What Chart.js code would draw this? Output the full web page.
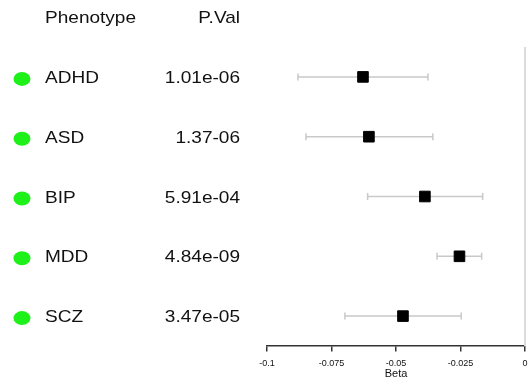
<!DOCTYPE html>
<html>
<head>
<meta charset="utf-8">
<script src="https://cdn.jsdelivr.net/npm/chart.js@4/dist/chart.umd.min.js"></script>
<style>
  html, body { margin: 0; padding: 0; background: #fff; }
  #wrap { width: 529px; height: 383px; }
</style>
</head>
<body>
<div id="wrap"><canvas id="forest"></canvas></div>
<script>
// forest plot data
var phenotypes = ['ADHD', 'ASD', 'BIP', 'MDD', 'SCZ'];
var pValues = ['1.01e-06', '1.37-06', '5.91e-04', '4.84e-09', '3.47e-05'];
var beta = [-0.0628, -0.0605, -0.0388, -0.0254, -0.0473];
var lower = [-0.0880, -0.0849, -0.0610, -0.0341, -0.0698];
var upper = [-0.0376, -0.0357, -0.0164, -0.0168, -0.0247];
var xTicks = [-0.1, -0.075, -0.05, -0.025, 0];

var FONT = '"Liberation Sans", Arial, sans-serif';

var points = beta.map(function (b, i) { return { x: b, y: i }; });

// text in the table is a little wide, so stretch it horizontally
function wideText(ctx, text, x, y, align) {
    var sx = 1.12;
    ctx.save();
    ctx.translate(x, y);
    ctx.scale(sx, 1);
    ctx.textAlign = align;
    ctx.fillText(text, 0, 0);
    ctx.restore();
}

// whiskers + left table (dots, names, p-values)
var forestExtras = {
    id: 'forestExtras',
    beforeDatasetsDraw: function (chart) {
        var ctx = chart.ctx;
        var xs = chart.scales.x, ys = chart.scales.y;
        ctx.save();
        ctx.strokeStyle = '#c9c9c9';
        ctx.lineWidth = 1.5;
        for (var i = 0; i < beta.length; i++) {
            var y = ys.getPixelForValue(i);
            var x0 = xs.getPixelForValue(lower[i]);
            var x1 = xs.getPixelForValue(upper[i]);
            ctx.beginPath();
            ctx.moveTo(x0, y); ctx.lineTo(x1, y);
            ctx.moveTo(x0, y - 3.5); ctx.lineTo(x0, y + 3.5);
            ctx.moveTo(x1, y - 3.5); ctx.lineTo(x1, y + 3.5);
            ctx.stroke();
        }
        ctx.restore();
    },
    afterDraw: function (chart) {
        var ctx = chart.ctx;
        var ys = chart.scales.y;
        ctx.save();
        ctx.fillStyle = '#111';
        ctx.font = '17px ' + FONT;
        ctx.textBaseline = 'middle';
        var hy = ys.getPixelForValue(-1) + 1.5;
        wideText(ctx, 'Phenotype', 45, hy, 'left');
        wideText(ctx, 'P.Val', 240, hy, 'right');
        for (var i = 0; i < phenotypes.length; i++) {
            var y = ys.getPixelForValue(i) + 1.5;
            ctx.fillStyle = '#1ef01a';
            ctx.beginPath();
            ctx.ellipse(22, y + 0.5, 8.5, 7, 0, 0, Math.PI * 2);
            ctx.fill();
            ctx.fillStyle = '#111';
            wideText(ctx, phenotypes[i], 45, y, 'left');
            wideText(ctx, pValues[i], 240, y, 'right');
        }
        ctx.restore();
    }
};

new Chart(document.getElementById('forest'), {
    type: 'scatter',
    data: {
        datasets: [{
            data: points,
            pointStyle: 'rect',
            pointRadius: 7.5,
            backgroundColor: '#000',
            borderColor: '#000',
            borderWidth: 1
        }, {
            // zero line
            type: 'line',
            data: [{ x: 0, y: -0.5 }, { x: 0, y: 4.5 }],
            borderColor: '#dcdcdc',
            borderWidth: 2,
            pointRadius: 0,
            clip: false
        }]
    },
    options: {
        responsive: true,
        maintainAspectRatio: false,
        animation: false,
        layout: { autoPadding: false, padding: { left: 267, right: 4, top: 47, bottom: 0 } },
        plugins: { legend: { display: false }, tooltip: { enabled: false } },
        scales: {
            x: {
                type: 'linear',
                min: -0.1,
                max: 0,
                afterBuildTicks: function (axis) {
                    axis.ticks = xTicks.map(function (v) { return { value: v }; });
                },
                afterFit: function (axis) {
                    axis.height = 37;
                },
                // long tick space, but only the first 5px is drawn as a tick mark
                grid: {
                    drawOnChartArea: false, drawTicks: true, tickLength: 11,
                    tickBorderDash: [5, 30], color: '#333', lineWidth: 1.5
                },
                border: { display: true, color: '#333', width: 1.5 },
                ticks: {
                    padding: 1,
                    maxRotation: 0,
                    color: '#111',
                    font: { family: FONT, size: 9 },
                    callback: function (v) { return String(v); }
                },
                title: {
                    display: true,
                    text: 'Beta',
                    color: '#111',
                    font: { family: FONT, size: 11 },
                    padding: { top: 0, bottom: 2 }
                }
            },
            y: {
                type: 'linear',
                min: -0.5,
                max: 4.5,
                reverse: true,
                display: false
            }
        }
    },
    plugins: [forestExtras]
});
</script>
</body>
</html>
